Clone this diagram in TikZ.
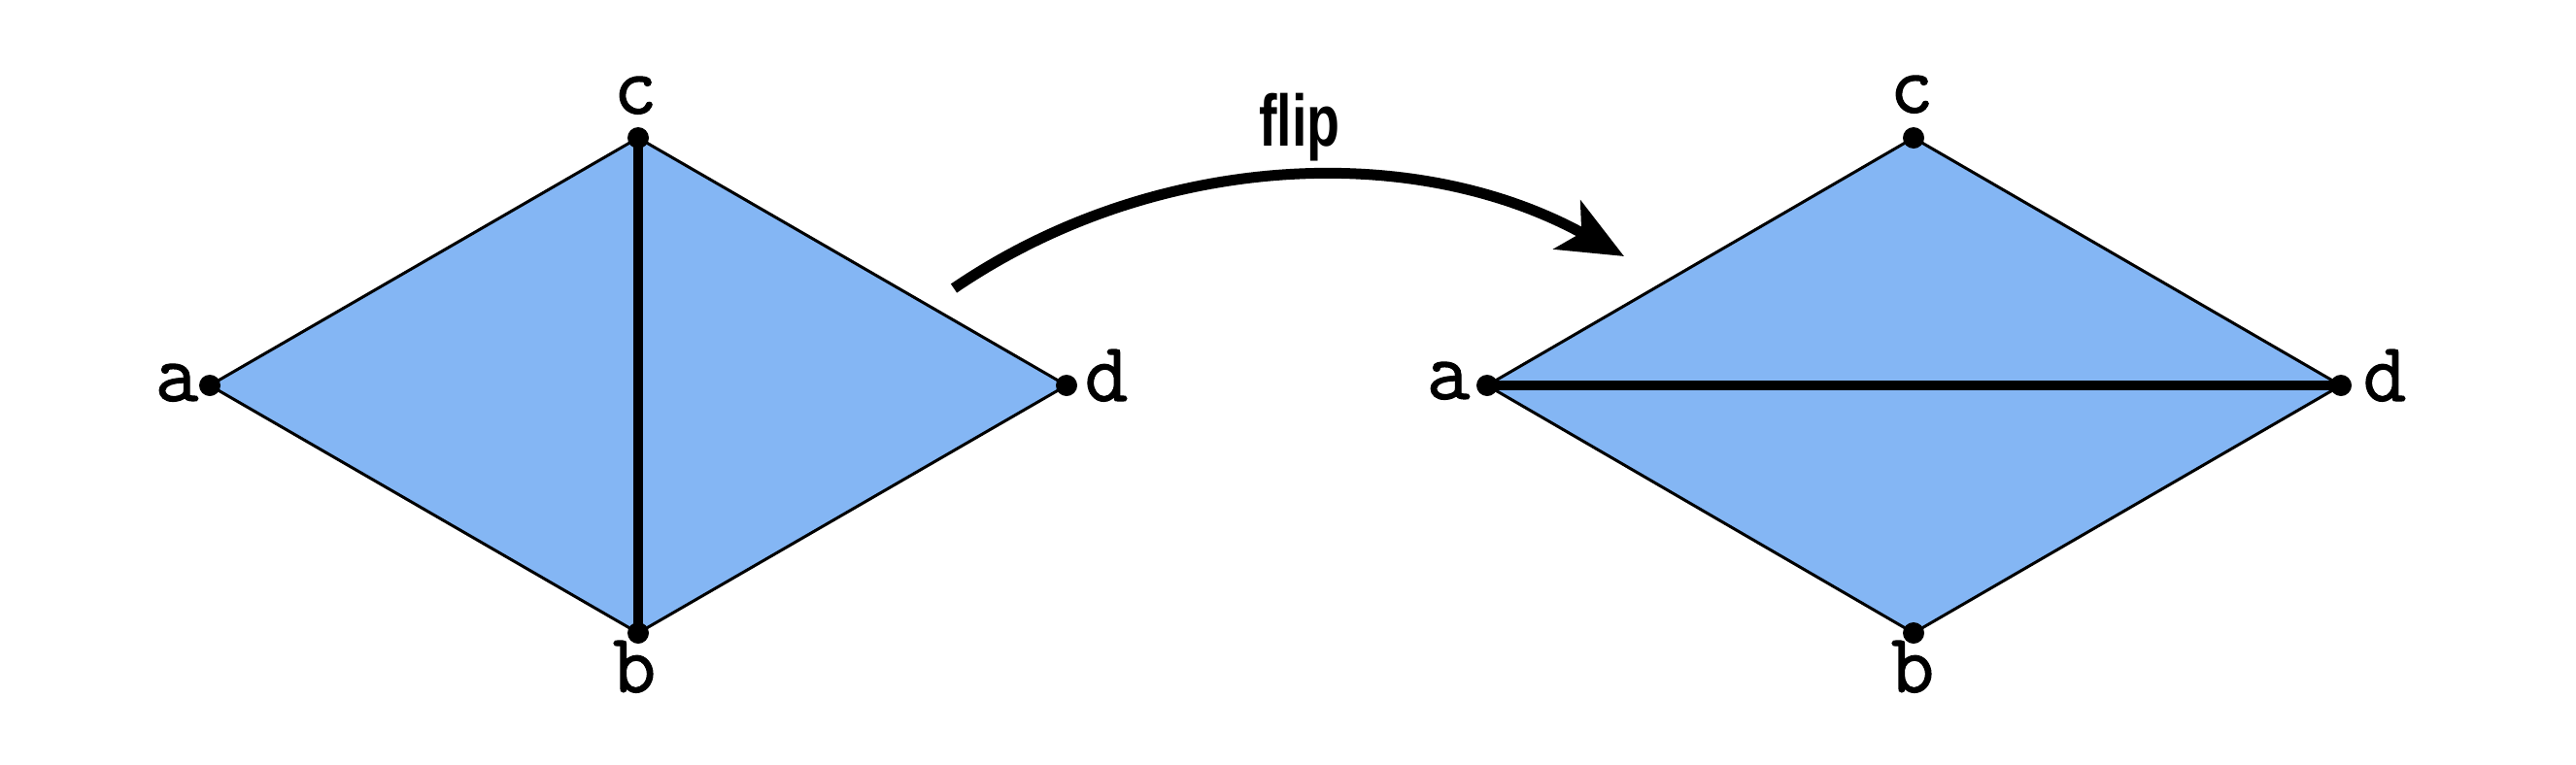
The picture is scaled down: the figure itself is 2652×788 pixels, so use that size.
\documentclass[tikz,border=0pt]{standalone}
\usepackage{fontspec}
\usetikzlibrary{arrows.meta}
\newfontfamily\lblfont[FakeBold=1.3]{Latin Modern Mono}
\newfontfamily\flipfont{Liberation Sans}
\definecolor{facefill}{HTML}{84B6F4}
\tikzset{
  face/.style={fill=facefill,draw=black,line width=0.9pt,line join=miter},
  diag/.style={line width=3pt,draw=black},
  vdot/.style={circle,fill=black,inner sep=0pt,minimum size=6.6pt},
  vlabel/.style={anchor=base,inner sep=0pt,font=\lblfont\fontsize{26}{26}\selectfont},
  fliparrow/.style={line width=3.3pt,-{Stealth[length=20pt,width=17pt,inset=5pt]}}
}
\begin{document}
\begin{tikzpicture}[x=0.3pt,y=-0.3pt]
\useasboundingbox (0,0) rectangle (2652,788);
% left diamond
\coordinate (la) at (216,397);
\coordinate (lc) at (657,142);
\coordinate (ld) at (1098,397);
\coordinate (lb) at (657,652);
\path[face] (la) -- (lc) -- (ld) -- (lb) -- cycle;
\draw[diag] (lc) -- (lb);
\foreach \v in {la,lb,lc,ld} \node[vdot] (\v dot) at (\v) {};
\node[vlabel] (laL) at (182,413) {a};
\node[vlabel] (lcL) at (654,117) {c};
\node[vlabel] (ldL) at (1139,413) {d};
\node[vlabel] (lbL) at (653,713) {b};
% right diamond
\coordinate (ra) at (1531,397);
\coordinate (rc) at (1970,142);
\coordinate (rd) at (2410,397);
\coordinate (rb) at (1970,652);
\path[face] (ra) -- (rc) -- (rd) -- (rb) -- cycle;
\draw[diag] (ra) -- (rd);
\foreach \v in {ra,rb,rc,rd} \node[vdot] (\v dot) at (\v) {};
\node[vlabel] (raL) at (1491,411) {a};
\node[vlabel] (rcL) at (1968,116) {c};
\node[vlabel] (rdL) at (2455,413) {d};
\node[vlabel] (rbL) at (1969,713) {b};
% flip arrow
\coordinate (fs) at (982,297);
\coordinate (fe) at (1672,264);
\draw[fliparrow] (fs) .. controls (1187,157) and (1455,144) .. (fe);
\node[anchor=base,inner sep=0pt] (flip) at (1338,150) {\scalebox{0.74}[1]{\flipfont\bfseries\fontsize{22.5}{22.5}\selectfont flip}};
\end{tikzpicture}
\end{document}
